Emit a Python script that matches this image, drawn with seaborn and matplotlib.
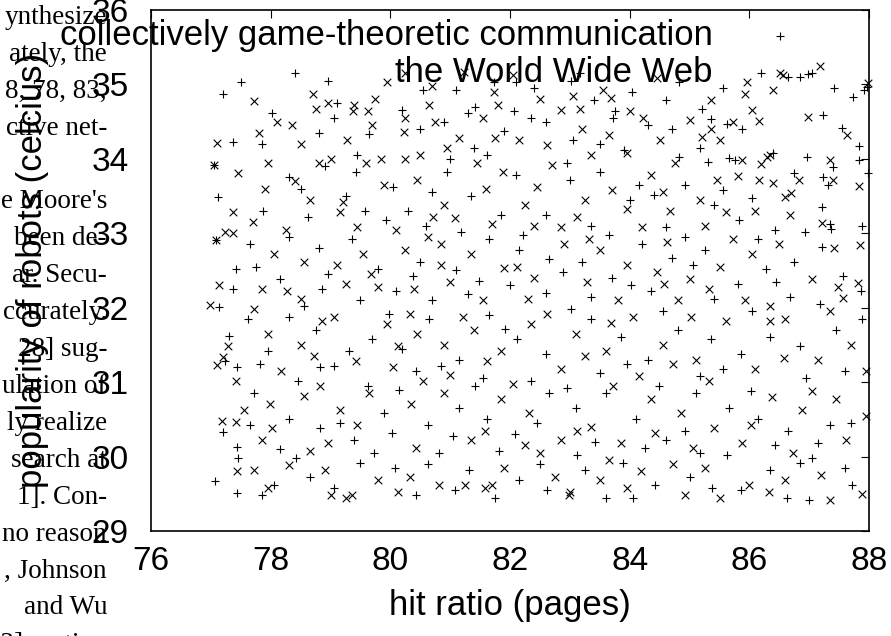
import matplotlib
matplotlib.use("Agg")
import matplotlib.pyplot as plt
import seaborn as sns
import pandas as pd

# series 1: "+" markers (hit ratio, popularity)
plus_pts = [
    (77.2, 34.87), (77.5, 35.03), (78.4, 35.15), (79.1, 34.75), (81.1, 34.92), (81.42, 34.7),
    (81.73, 35.03), (82.07, 34.64), (82.1, 35.03), (82.4, 34.95), (83.17, 35.15), (83.4, 34.79),
    (83.75, 34.64), (84.04, 34.9), (84.6, 34.79), (84.83, 35.03), (85.2, 34.67),
    (86.2, 35.15), (86.65, 35.1), (86.85, 35.1), (86.98, 35.14), (87.05, 35.15), (87.42, 34.95),
    (87.73, 34.83), (87.92, 34.92), (87.96, 34.96), (87.23, 34.59), (85.35, 34.53), (85.63, 34.47),
    (85.88, 34.4), (87.55, 34.41), (87.83, 34.17), (87.83, 33.98), (87.98, 33.81), (85.3, 33.96),
    (85.65, 34.01), (85.75, 33.98), (86.4, 34.08), (86.96, 34.02), (87.4, 33.89), (86.75, 33.81),
    (87.23, 33.76), (87.32, 33.65), (87.22, 33.35), (87.35, 33.12), (87.37, 33.06), (87.88, 33.1),
    (87.22, 32.82), (87.57, 32.43), (87.87, 32.22),
    (77.37, 34.23), (77.05, 33.92), (77.12, 33.49), (77.08, 32.91), (77.42, 32.52), (77.37, 32.25),
    (77.13, 32.01), (77.3, 31.62), (77.24, 31.28), (77.44, 31.2), (77.2, 30.33), (77.44, 30.13),
    (77.07, 29.67), (77.44, 29.51),
    (77.85, 34.2), (78.8, 34.35), (79.05, 34.55), (79.65, 34.33), (78.3, 33.75), (78.5, 33.6),
    (78.9, 33.9), (79.25, 33.5), (79.42, 33.82), (79.58, 33.3), (77.87, 33.3),
    (80.2, 34.65), (80.5, 34.4), (80.9, 34.5), (81.3, 34.62), (81.4, 34.15), (81.0, 34.0),
    (81.9, 34.38), (82.1, 33.78), (80.7, 33.55), (81.35, 33.5), (81.85, 33.25), (80.3, 33.3),
    (80.6, 33.1),
    (82.6, 34.5), (83.05, 34.25), (83.5, 34.2), (83.9, 34.12), (84.3, 34.45), (84.7, 34.4),
    (85.18, 34.15), (83.0, 33.72), (83.5, 33.82), (84.0, 33.45), (84.4, 33.52), (84.92, 33.65),
    (82.6, 33.25), (83.35, 33.1), (84.6, 33.08), (85.4, 33.38), (85.82, 33.18), (86.42, 33.05),
    (86.92, 33.02),
    (77.65, 32.85), (78.3, 32.95), (78.8, 32.8), (79.35, 32.92), (79.8, 32.52), (78.15, 32.38),
    (78.85, 32.25), (79.5, 32.1), (80.1, 32.22), (80.5, 32.62), (81.1, 32.5), (81.65, 32.92),
    (82.15, 32.78), (82.65, 32.65), (80.7, 32.1), (81.3, 32.18), (82.0, 32.3), (82.6, 32.2),
    (83.2, 32.62), (83.7, 32.4), (84.2, 32.85), (84.7, 32.67), (85.25, 32.78), (85.8, 32.32),
    (86.28, 32.52), (86.75, 32.62), (83.35, 32.15), (84.35, 32.22), (85.4, 32.12), (86.68, 32.15),
    (77.62, 31.85), (78.3, 31.88), (78.75, 31.7), (79.3, 31.42), (79.7, 31.58), (77.82, 31.25),
    (78.82, 31.2), (80.2, 31.45), (80.65, 31.85), (81.15, 31.3), (81.65, 31.9), (82.12, 31.58),
    (82.6, 31.38), (80.42, 31.15), (81.55, 31.05), (83.35, 31.85), (83.85, 31.6), (84.3, 31.3),
    (84.8, 31.7), (85.35, 31.58), (85.85, 31.38), (86.35, 31.6), (86.85, 31.48), (87.45, 31.7),
    (87.88, 31.85), (87.6, 31.15), (83.5, 31.12), (85.18, 31.08),
    (77.72, 30.85), (78.3, 30.5), (78.82, 30.38), (79.4, 30.22), (79.9, 30.58), (78.15, 30.1),
    (80.15, 30.9), (80.62, 30.42), (81.15, 30.65), (81.62, 30.5), (82.08, 30.3), (82.65, 30.85),
    (83.1, 30.65), (83.6, 30.85), (84.1, 30.5), (84.6, 30.22), (85.1, 30.85), (85.65, 30.65),
    (86.15, 30.5), (86.65, 30.35), (87.15, 30.18), (87.7, 30.45), (80.82, 30.05), (85.18, 30.05),
    (77.85, 29.48), (81.08, 29.55), (82.15, 29.68), (83.6, 29.45), (85.85, 29.55), (87.0, 29.42),
    (78.05, 29.62), (78.65, 29.72), (79.5, 29.92), (80.08, 29.85), (80.62, 29.9), (81.32, 29.82),
    (82.5, 29.9), (83.25, 29.82), (83.88, 29.92), (84.42, 29.62), (85.0, 29.72), (86.35, 29.82),
    (86.85, 29.92), (87.6, 29.85),
    (78.02, 34.62), (79.45, 34.05), (80.05, 33.62), (80.95, 33.82), (81.62, 34.05), (82.35, 34.55),
    (82.95, 33.95), (83.72, 34.55), (84.15, 33.65), (84.82, 34.02), (85.55, 33.58), (86.05, 33.48),
    (78.62, 33.22), (79.92, 33.18), (81.18, 33.02), (82.22, 32.98), (83.65, 32.98), (84.92, 32.95),
    (86.15, 32.92), (77.75, 32.55), (78.95, 32.45), (80.38, 32.42), (81.48, 32.36), (82.88, 32.48),
    (84.02, 32.3), (85.05, 32.58), (86.45, 32.35), (87.18, 32.05), (78.55, 32.02), (79.98, 31.92),
    (81.92, 31.72), (83.02, 31.98), (84.55, 31.95), (86.05, 31.95), (77.95, 31.42), (79.05, 31.22),
    (80.85, 31.22), (82.35, 31.02), (83.95, 31.25), (85.55, 31.18), (86.95, 31.05), (78.45, 31.02),
    (79.62, 30.95), (81.42, 30.95), (82.95, 30.92), (84.48, 30.95), (86.02, 30.88), (87.35, 30.42),
    (77.65, 30.42), (79.15, 30.45), (80.02, 30.32), (81.05, 30.28), (82.45, 30.45), (83.42, 30.2),
    (84.92, 30.35), (86.42, 30.15), (78.42, 29.98), (79.72, 30.05), (81.82, 30.08), (83.12, 30.02),
    (84.25, 30.12), (85.62, 30.02), (87.05, 29.98), (77.45, 29.98), (79.05, 29.58), (80.42, 29.48),
    (81.75, 29.45), (82.62, 29.55), (84.05, 29.45), (85.38, 29.58), (86.62, 29.45), (87.72, 29.62),
    (80.55, 34.92), (83.02, 35.05), (85.55, 34.95), (78.95, 35.05),
]

# series 2: "x" markers
cross_pts = [
    (78.7, 34.87), (78.76, 34.67), (78.96, 34.75), (79.4, 34.72), (79.37, 34.64), (79.63, 34.64),
    (79.94, 35.03), (80.65, 34.72), (80.7, 34.98), (81.23, 35.17), (81.73, 34.9), (81.8, 34.72),
    (82.5, 34.8), (83.05, 34.84), (83.17, 34.67), (83.55, 34.92), (83.68, 34.82), (84.0, 34.64),
    (85.36, 34.79), (85.93, 34.87),
    (85.96, 35.03), (86.56, 35.12), (86.4, 34.93), (87.18, 35.25), (87.98, 35.02), (86.04, 34.66),
    (86.16, 34.51), (86.98, 34.56), (85.35, 34.4), (85.5, 34.25), (85.73, 34.5), (87.63, 34.32),
    (85.88, 33.98), (86.2, 33.93), (86.3, 34.02), (86.35, 34.05), (87.35, 33.98), (85.8, 33.77),
    (86.16, 33.72), (86.4, 33.67), (87.4, 33.72), (87.83, 33.63), (86.7, 33.54), (86.6, 33.49),
    (87.22, 33.14), (87.85, 32.84), (87.42, 32.8), (87.48, 32.28), (87.82, 32.33), (87.57, 32.13),
    (77.1, 34.21), (77.05, 33.92), (77.45, 33.81), (77.37, 33.29), (77.24, 33.02), (77.37, 33.0),
    (77.08, 32.91), (77.13, 32.3), (76.99, 32.04), (77.29, 31.49), (77.2, 31.34), (77.1, 31.23),
    (77.42, 31.02), (77.19, 30.48), (77.42, 30.46), (77.44, 29.8),
    (78.1, 34.5), (77.8, 34.35), (78.5, 34.2), (79.0, 34.0), (79.7, 34.45), (78.4, 33.7),
    (77.9, 33.6), (78.8, 33.95), (79.2, 33.42), (79.85, 34.0), (79.9, 33.65), (79.15, 33.28),
    (77.7, 33.15),
    (80.25, 34.55), (80.22, 34.36), (80.75, 34.5), (81.15, 34.28), (80.25, 34.0), (80.5, 34.05),
    (81.45, 33.95), (81.75, 34.28), (82.15, 34.25), (80.45, 33.72), (80.9, 33.38), (81.08, 33.2),
    (81.6, 33.6), (82.25, 33.38), (80.1, 33.05), (82.4, 33.1),
    (82.85, 34.65), (83.2, 34.4), (83.65, 34.32), (83.95, 34.08), (84.5, 34.25), (85.0, 34.52),
    (82.7, 33.92), (83.25, 33.45), (83.7, 33.58), (84.35, 33.78), (84.68, 33.3), (85.18, 33.45),
    (82.85, 33.08), (84.2, 33.08), (85.25, 33.1), (85.6, 33.28), (86.1, 33.3), (86.68, 33.25),
    (78.05, 32.72), (78.55, 32.62), (79.1, 32.58), (79.55, 32.72), (77.85, 32.25), (78.5, 32.12),
    (79.25, 32.32), (79.8, 32.28), (80.25, 32.78), (80.85, 32.85), (81.35, 32.72), (81.9, 32.53),
    (82.4, 32.4), (82.9, 32.85), (80.4, 32.25), (81.0, 32.35), (81.55, 32.1), (82.3, 32.12),
    (83.5, 32.78), (83.95, 32.58), (84.45, 32.48), (85.0, 32.38), (85.5, 32.55), (86.05, 32.72),
    (86.5, 32.85), (87.05, 32.38), (83.8, 32.1), (84.8, 32.1), (85.92, 32.1),
    (77.95, 31.65), (78.5, 31.5), (79.05, 31.88), (79.42, 31.28), (79.95, 31.78), (78.18, 31.15),
    (80.05, 31.2), (80.45, 31.65), (80.9, 31.5), (81.4, 31.7), (81.85, 31.42), (82.35, 31.78),
    (82.85, 31.18), (81.0, 31.1), (83.1, 31.65), (83.6, 31.42), (84.05, 31.88), (84.55, 31.5),
    (85.1, 31.3), (85.6, 31.82), (86.1, 31.18), (86.6, 31.85), (87.15, 31.3), (87.7, 31.5),
    (87.95, 31.15), (87.35, 31.95), (84.15, 31.08),
    (77.98, 30.7), (78.55, 30.82), (79.15, 30.62), (79.65, 30.85), (77.85, 30.22), (78.65, 30.08),
    (80.35, 30.7), (80.9, 30.85), (81.35, 30.22), (81.85, 30.78), (82.32, 30.58), (82.85, 30.22),
    (83.35, 30.4), (83.85, 30.18), (84.35, 30.78), (84.85, 30.58), (85.4, 30.38), (85.88, 30.18),
    (86.38, 30.8), (86.88, 30.62), (87.45, 30.78), (87.95, 30.55), (82.5, 30.05),
    (77.72, 29.82), (78.3, 29.88), (79.0, 29.48), (79.25, 29.45), (79.35, 29.48), (81.58, 29.58),
    (81.7, 29.62), (82.98, 29.48), (83.0, 29.53), (85.5, 29.45), (86.0, 29.62), (87.35, 29.42),
    (87.88, 29.5), (78.9, 29.82), (79.8, 29.68), (80.32, 29.72), (80.82, 29.62), (81.9, 29.85),
    (82.75, 29.72), (83.5, 29.68), (84.18, 29.8), (84.72, 29.9), (85.25, 29.85), (86.6, 29.68),
    (87.2, 29.75),
    (77.72, 34.78), (78.35, 34.45), (79.28, 34.25), (79.75, 34.8), (80.95, 34.15), (81.55, 34.55),
    (82.62, 34.18), (83.35, 34.05), (84.22, 34.55), (84.75, 33.95), (85.2, 34.3), (77.95, 33.95),
    (78.65, 33.45), (79.6, 33.95), (80.72, 33.22), (81.88, 33.82), (82.45, 33.62), (83.12, 33.22),
    (83.95, 33.32), (84.55, 33.55), (85.45, 33.72), (86.82, 33.72), (78.25, 33.05), (79.45, 33.08),
    (80.62, 32.95), (81.7, 33.12), (83.32, 32.92), (84.62, 32.88), (85.72, 32.92), (78.28, 32.22),
    (79.68, 32.45), (80.85, 32.58), (82.12, 32.55), (83.28, 32.35), (84.58, 32.32), (85.32, 32.25),
    (86.35, 32.02), (77.72, 31.98), (78.85, 31.82), (80.32, 31.92), (81.22, 31.88), (82.62, 31.92),
    (83.68, 31.8), (85.02, 31.88), (86.35, 31.82), (78.72, 31.35), (80.12, 31.48), (81.62, 31.28),
    (83.25, 31.35), (84.72, 31.25), (86.58, 31.32), (77.55, 30.62), (78.82, 30.95), (80.55, 31.02),
    (82.05, 30.98), (83.72, 30.95), (85.32, 31.02), (87.05, 30.88), (78.02, 30.38), (79.45, 30.42),
    (81.58, 30.35), (83.12, 30.35), (84.42, 30.32), (86.02, 30.42), (87.62, 30.22), (78.95, 30.18),
    (80.42, 30.12), (82.25, 30.15), (83.65, 29.95), (85.05, 30.12), (86.72, 30.05), (77.95, 29.58),
    (80.12, 29.52), (81.25, 29.62), (83.95, 29.58), (84.92, 29.48), (86.32, 29.52), (82.05, 35.12),
    (84.45, 35.08), (80.25, 35.15),
]

series_labels = ["collectively game-theoretic communication", "the World Wide Web"]
x_ticks = [76, 78, 80, 82, 84, 86, 88]
y_ticks = [29, 30, 31, 32, 33, 34, 35, 36]
x_title = "hit ratio (pages)"
y_title = "popularity of robots (celcius)"

# bits of the surrounding paper column that show at the left edge
paper_lines = ["ynthesize", "ately, the", "8, 78, 83,", "ctive net-", "",
               "e Moore's", "been de-", "ar. Secu-", "ccurately.", "28] sug-",
               "ulation of", "ly realize", "search at", "1]. Con-", "no reason",
               ", Johnson", "and Wu", "[72] motion"]

sns.set_theme(style="white")
plt.rcParams["font.family"] = ["Liberation Sans", "DejaVu Sans"]
plt.rcParams["text.color"] = "black"
plt.rcParams["axes.labelcolor"] = "black"

df_plus = pd.DataFrame(plus_pts, columns=["x", "y"])
df_cross = pd.DataFrame(cross_pts, columns=["x", "y"])

fig = plt.figure(figsize=(8.91, 6.36), dpi=100)
ax = fig.add_axes([0.1695, 0.1651, 0.806, 0.8192])

sns.scatterplot(data=df_plus, x="x", y="y", marker="+", color="black",
                s=38, linewidth=0.8, ax=ax, label=series_labels[0], clip_on=False)
sns.scatterplot(data=df_cross, x="x", y="y", marker="x", color="black",
                s=30, linewidth=0.8, ax=ax, label=series_labels[1], clip_on=False)

ax.set_xlim(76, 88)
ax.set_ylim(29, 36)
ax.set_xticks(x_ticks)
ax.set_yticks(y_ticks)
ax.tick_params(direction="in", length=6, width=0.8, top=True, right=True,
               labelsize=24, colors="black")
ax.tick_params(axis="x", pad=11)
ax.tick_params(axis="y", pad=16)
for sp in ax.spines.values():
    sp.set_linewidth(1.2)
    sp.set_color("black")

ax.set_xlabel(x_title, fontsize=25)
ax.set_ylabel(y_title, fontsize=25)
ax.xaxis.set_label_coords(0.5, -0.112)
ax.yaxis.set_label_coords(-0.142, 0.5)

leg = ax.legend(loc="upper right", bbox_to_anchor=(0.9318, 0.983), frameon=False,
                markerfirst=False, fontsize=25, handletextpad=0.8, handlelength=2.3,
                labelspacing=0.12, borderpad=0, borderaxespad=0)

for i, line in enumerate(paper_lines):
    if line:
        fig.text(107 / 891, 1 - (24 + i * 36.9) / 636, line, ha="right", va="baseline",
                 fontsize=19.5, family=["Liberation Serif", "DejaVu Serif"])

fig.savefig("out.png", dpi=100)
